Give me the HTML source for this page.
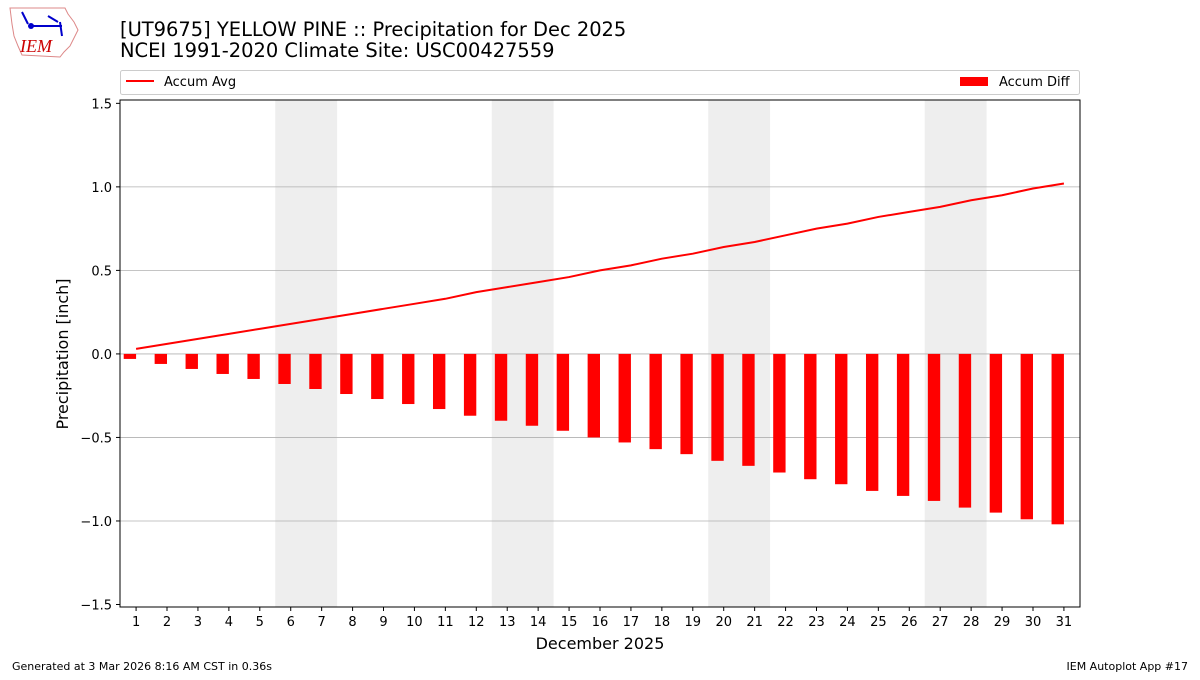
<!DOCTYPE html>
<html><head><meta charset="utf-8"><style>
body{margin:0;background:#fff;width:1200px;height:675px;overflow:hidden;font-family:"Liberation Sans","DejaVu Sans",sans-serif}
svg text{font-family:"DejaVu Sans","Liberation Sans",sans-serif}
</style></head><body>
<svg id="c" width="1200" height="675" xmlns="http://www.w3.org/2000/svg">
<g>
<path d="M10,8 L65,8 L68,14 L74,22 L78,30 L74,38 L70,46 L64,52 L60,57 L22,55 L18,46 L14,36 L12,24 Z" fill="none" stroke="#d88" stroke-width="1"/>
<path d="M22,12 L28,24 M30,26 L62,26 M48,16 L58,22 M60,22 L62,36" stroke="#00c" stroke-width="2" fill="none"/>
<circle cx="31" cy="26" r="3" fill="#00c"/>
<text x="20" y="52" font-family="Liberation Serif" font-style="italic" font-size="18" fill="#c00" style="font-family:'Liberation Serif',serif">IEM</text>
</g>
<text x="120" y="36" font-size="19.45">[UT9675] YELLOW PINE :: Precipitation for Dec 2025</text>
<text x="120" y="57" font-size="19.45">NCEI 1991-2020 Climate Site: USC00427559</text>
<g>
<rect x="120.5" y="70.5" width="959" height="24" fill="#fff" stroke="#ccc" rx="2"/>
<line x1="126" y1="81" x2="154" y2="81" stroke="red" stroke-width="2"/>
<text x="164" y="86" font-size="13">Accum Avg</text>
<rect x="960" y="77" width="28" height="9" fill="red"/>
<text x="999" y="86" font-size="13">Accum Diff</text>
</g>
<g id="plot"></g>
<text x="12" y="670" font-size="11">Generated at 3 Mar 2026 8:16 AM CST in 0.36s</text>
<text x="1188" y="670" font-size="11" text-anchor="end">IEM Autoplot App #17</text>
</svg>
<script>
const days=[1,2,3,4,5,6,7,8,9,10,11,12,13,14,15,16,17,18,19,20,21,22,23,24,25,26,27,28,29,30,31];
const accumAvg=[0.03,0.06,0.09,0.12,0.15,0.18,0.21,0.24,0.27,0.30,0.33,0.37,0.40,0.43,0.46,0.50,0.53,0.57,0.60,0.64,0.67,0.71,0.75,0.78,0.82,0.85,0.88,0.92,0.95,0.99,1.02];
const accumDiff=[-0.03,-0.06,-0.09,-0.12,-0.15,-0.18,-0.21,-0.24,-0.27,-0.30,-0.33,-0.37,-0.40,-0.43,-0.46,-0.50,-0.53,-0.57,-0.60,-0.64,-0.67,-0.71,-0.75,-0.78,-0.82,-0.85,-0.88,-0.92,-0.95,-0.99,-1.02];
const weekends=[[5.5,7.5],[12.5,14.5],[19.5,21.5],[26.5,28.5]];
const yTicks=[-1.5,-1.0,-0.5,0.0,0.5,1.0,1.5];
const yTickLabels=["\u22121.5","\u22121.0","\u22120.5","0.0","0.5","1.0","1.5"];
const L=120,R=1080,T=100,B=607,x0=0.48,x1=31.52,y0=-1.515,y1=1.52;
const X=v=>L+(v-x0)/(x1-x0)*(R-L);
const Y=v=>B-(v-y0)/(y1-y0)*(B-T);
const NS="http://www.w3.org/2000/svg",g=document.getElementById('plot');
function mk(t,a){const e=document.createElementNS(NS,t);for(const k in a)e.setAttribute(k,a[k]);g.appendChild(e);return e;}
weekends.forEach(w=>{const e=mk('rect',{x:X(w[0]),y:T,width:X(w[1])-X(w[0]),height:B-T,fill:'#eee'});

});
yTicks.forEach((v,i)=>{
if(v!==-1.5&&v!==1.5){const l=mk('line',{x1:L,x2:R,y1:Y(v),y2:Y(v),stroke:'#b0b0b0','stroke-width':0.8});

}
mk('line',{x1:L-4,x2:L,y1:Y(v),y2:Y(v),stroke:'#000'});
const t=mk('text',{x:L-8,y:Y(v)+5,'font-size':13,'text-anchor':'end'});t.textContent=yTickLabels[i];

});
const bw=0.4*(R-L)/(x1-x0);
days.forEach((d,i)=>{const v=accumDiff[i];const b=mk('rect',{x:X(d)-bw,y:Y(Math.max(0,v)),width:bw,height:Math.abs(Y(v)-Y(0)),fill:'red'});


mk('line',{x1:X(d),x2:X(d),y1:B,y2:B+4,stroke:'#000'});
const t=mk('text',{x:X(d),y:B+19,'font-size':13,'text-anchor':'middle'});t.textContent=d;

});
const ln=mk('polyline',{points:days.map((d,i)=>X(d)+','+Y(accumAvg[i])).join(' '),fill:'none',stroke:'red','stroke-width':2});


const fr=mk('rect',{x:L,y:T,width:R-L,height:B-T,fill:'none',stroke:'#000','stroke-width':1});


const xt=mk('text',{x:(L+R)/2,y:649,'font-size':16,'text-anchor':'middle'});xt.textContent='December 2025';


const yt=mk('text',{x:0,y:0,'font-size':16,'text-anchor':'middle',transform:'translate(68,354) rotate(-90)'});yt.textContent='Precipitation [inch]';


</script>
</body></html>
